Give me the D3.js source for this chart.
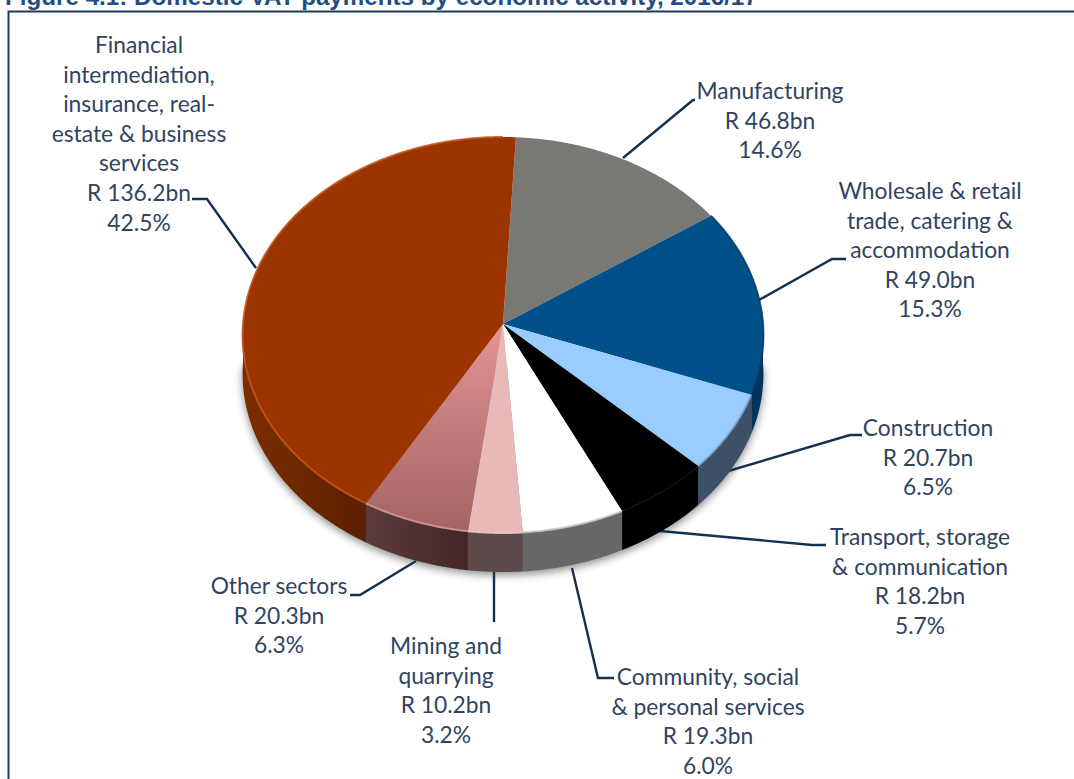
<!DOCTYPE html>
<html>
<head>
<meta charset="utf-8">
<script src="https://cdn.jsdelivr.net/npm/d3@7"></script>
<style>
    html, body { margin: 0; padding: 0; background: #fff; overflow: hidden; }
    text { font-family: Lato, "Open Sans", sans-serif; }
</style>
</head>
<body>
<div id="chart"></div>
<script>
// values, clockwise from the top of the pie
var categories = ["Manufacturing", "Wholesale & retail trade, catering & accommodation", "Construction",
    "Transport, storage & communication", "Community, social & personal services",
    "Mining and quarrying", "Other sectors", "Financial intermediation, insurance, real-estate & business services"];
var valuesBn = [46.8, 49.0, 20.7, 18.2, 19.3, 10.2, 20.3, 136.2];
var shares = [14.6, 15.3, 6.5, 5.7, 6.0, 3.2, 6.3, 42.5];
var labelLines = [
    ["Manufacturing"],
    ["Wholesale & retail", "trade, catering &", "accommodation"],
    ["Construction"],
    ["Transport, storage", "& communication"],
    ["Community, social", "& personal services"],
    ["Mining and", "quarrying"],
    ["Other sectors"],
    ["Financial", "intermediation,", "insurance, real-", "estate & business", "services"]
];

// layout only
var topColors = ["#7a7872", "#00508a", "#99ccff", "#000000", "#ffffff", "#e9b9b9", "url(#otherTop)", "#9c3400"];
var sideColors = ["#55534f", "#00345c", "#3e5068", "#000000", "#676767", "#5c4a4a", "url(#otherSide)", "url(#finSide)"];
var rimColors = [null, "#003a66", "#7fa3c8", null, "#c8c8c8", "#f0cccc", "#d49a9a", "#c2551a"];
var labelPos = [
    { x: 770, y: 91 }, { x: 930, y: 191 }, { x: 928, y: 428 }, { x: 920, y: 537 },
    { x: 708, y: 677 }, { x: 446, y: 646 }, { x: 279, y: 586 }, { x: 139, y: 45 }
];
var leaders = [
    [[623, 158], [693, 100], [695, 100]],
    [[759, 300], [832, 259], [846, 259]],
    [[725, 472], [850, 435], [862, 435]],
    [[660, 531], [812, 545], [826, 545]],
    [[572, 568], [598, 678], [614, 678]],
    [[494, 572], [494, 622]],
    [[416, 561], [360, 595], [350, 595]],
    [[256, 268], [207, 199], [192, 199]]
];

var width = 1074, height = 779;
var cx = 503, cy = 324, rx = 260, ry = 197.4, tilt = 0.0555, depth = 39;
var startAngle = 3 * Math.PI / 180;
var lineHeight = 29.6;
var textColor = "#30445f";

var svg = d3.select("#chart").append("svg")
    .attr("width", width)
    .attr("height", height);

var defs = svg.append("defs");

defs.append("filter").attr("id", "soft")
    .attr("x", "-10%").attr("y", "-10%").attr("width", "120%").attr("height", "120%")
    .append("feGaussianBlur").attr("stdDeviation", 4);

defs.append("filter").attr("id", "rimBlur")
    .attr("x", "-10%").attr("y", "-10%").attr("width", "120%").attr("height", "120%")
    .append("feGaussianBlur").attr("stdDeviation", 0.7);

function gradient(id, x1, y1, x2, y2, stops) {
    var g = defs.append("linearGradient").attr("id", id)
        .attr("gradientUnits", "userSpaceOnUse")
        .attr("x1", x1).attr("y1", y1).attr("x2", x2).attr("y2", y2);
    stops.forEach(function(s) {
        g.append("stop").attr("offset", s[0]).attr("stop-color", s[1]);
    });
}
gradient("otherTop", 0, 330, 0, 530, [[0, "#e39292"], [0.5, "#c27b7b"], [1, "#a56565"]]);
gradient("otherSide", 366, 0, 467, 0, [[0, "#5b3b3b"], [1, "#452626"]]);
gradient("finSide", 242, 0, 366, 0, [[0, "#7d2d00"], [1, "#5a2000"]]);

// title runs off the top of the picture
svg.append("text")
    .attr("x", 5)
    .attr("y", 5)
    .attr("font-size", "24.2px")
    .attr("font-weight", "bold")
    .attr("fill", "#1f4e82")
    .style("font-family", "'Liberation Sans', Arial, sans-serif")
    .text("Figure 4.1: Domestic VAT payments by economic activity, 2016/17");

svg.append("path")
    .attr("d", "M8.5," + height + "V11.5H" + width)
    .attr("fill", "none")
    .attr("stroke", "#1d3b5c")
    .attr("stroke-width", 2);

var pie = d3.pie().sort(null)
    .startAngle(startAngle)
    .endAngle(startAngle + 2 * Math.PI);
var arcs = pie(valuesBn);

// circle seen in perspective, the near side comes out larger than the far side
function project(a, drop) {
    var s = 1 / (1 + tilt * Math.cos(a));
    return [cx + rx * Math.sin(a) * s, cy - ry * Math.cos(a) * s + (drop || 0)];
}

function rimAngles(a0, a1) {
    var n = Math.max(2, Math.ceil((a1 - a0) * 120));
    return d3.range(n + 1).map(function(i) { return a0 + (a1 - a0) * i / n; });
}

var line = d3.line();

function topPath(d) {
    var pts = rimAngles(d.startAngle, d.endAngle).map(function(a) { return project(a); });
    return line([[cx, cy]].concat(pts)) + "Z";
}

// only the part of the rim facing the viewer has a wall
function sidePath(d) {
    var a0 = Math.max(d.startAngle, Math.PI / 2),
        a1 = Math.min(d.endAngle, 3 * Math.PI / 2);
    if (a1 <= a0) return null;
    var angles = rimAngles(a0, a1);
    var upper = angles.map(function(a) { return project(a); });
    var lower = angles.slice().reverse().map(function(a) { return project(a, depth); });
    return line(upper.concat(lower)) + "Z";
}

// drop shadow
var whole = rimAngles(Math.PI / 2, 3 * Math.PI / 2).map(function(a) { return project(a, depth + 3); });
svg.append("path")
    .attr("d", line(whole) + "Z")
    .attr("fill", "#000")
    .attr("opacity", 0.45)
    .attr("filter", "url(#soft)");

// leaders go under the pie
svg.append("g").selectAll("path")
    .data(leaders)
    .enter()
    .append("path")
    .attr("d", line)
    .attr("fill", "none")
    .attr("stroke", "#13304f")
    .attr("stroke-width", 2.4);

svg.append("g").selectAll("path")
    .data(arcs)
    .enter()
    .append("path")
    .attr("d", sidePath)
    .attr("fill", function(d, i) { return sideColors[i]; });

svg.append("g").selectAll("path")
    .data(arcs)
    .enter()
    .append("path")
    .attr("d", topPath)
    .attr("fill", function(d, i) { return topColors[i]; });

// soft bevel along the rim
svg.append("g").selectAll("path")
    .data(arcs)
    .enter()
    .filter(function(d, i) { return rimColors[i] != null; })
    .append("path")
    .attr("d", function(d) {
        return line(rimAngles(d.startAngle, Math.min(d.endAngle, 2 * Math.PI)).map(function(a) { return project(a); }));
    })
    .attr("fill", "none")
    .attr("stroke", function(d) { return rimColors[arcs.indexOf(d)]; })
    .attr("stroke-width", 2)
    .attr("opacity", 0.85)
    .attr("filter", "url(#rimBlur)");

var labels = svg.append("g").selectAll("text")
    .data(categories)
    .enter()
    .append("text")
    .attr("text-anchor", "middle")
    .attr("font-size", "22.8px")
    .attr("fill", textColor);

labels.each(function(d, i) {
    var rows = labelLines[i].concat(["R " + valuesBn[i].toFixed(1) + "bn", shares[i].toFixed(1) + "%"]);
    d3.select(this).selectAll("tspan")
        .data(rows)
        .enter()
        .append("tspan")
        .attr("x", labelPos[i].x)
        .attr("y", function(r, j) { return labelPos[i].y + j * lineHeight; })
        .attr("dy", "0.35em")
        .text(function(r) { return r; });
});
</script>
</body>
</html>
